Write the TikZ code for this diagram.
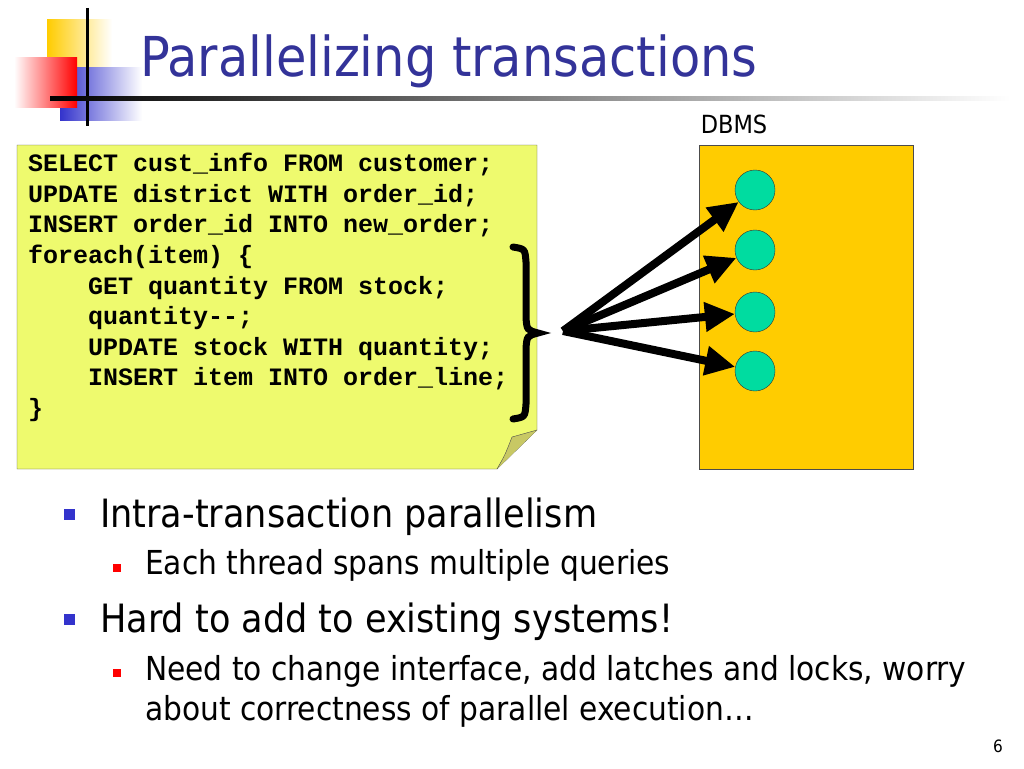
\documentclass[tikz,border=0pt]{standalone}
\usepackage{fontspec}
\setmainfont{DejaVu Sans Condensed}
\setmonofont{Liberation Mono}
\usetikzlibrary{arrows.meta,positioning}
\definecolor{titleblue}{RGB}{51,51,153}
\definecolor{bulletblue}{RGB}{51,51,204}
\definecolor{notefill}{RGB}{238,250,110}
\definecolor{notefold}{RGB}{200,200,100}
\definecolor{dbmsfill}{RGB}{255,204,0}
\definecolor{threadfill}{RGB}{0,220,160}
\definecolor{logoyellow}{RGB}{255,204,0}

\begin{document}
\begin{tikzpicture}[x=1pt, y=-1pt,
  thread/.style={circle, draw=black!80, fill=threadfill, minimum size=40pt, inner sep=0pt},
  spawn/.style={-{Triangle[length=30pt, width=28pt]}, line width=8pt},
  bul/.style={anchor=base west, inner sep=0pt},
  lvlone/.style={bul, font=\fontsize{39}{46}\selectfont},
  lvltwo/.style={bul, font=\fontsize{33}{40}\selectfont, align=left},
  sqone/.style={fill=bulletblue},
  sqtwo/.style={fill=red}
]
\useasboundingbox (0,0) rectangle (1024,768);

% Logo
\shade[left color=logoyellow, right color=white] (47,20) rectangle (112,67);
\shade[left color=bulletblue, right color=white] (60,67) rectangle (142,120);
\shade[left color=white, right color=red] (14,58) rectangle (77,107);
\draw[line width=3pt] (87,8) -- (87,126);
\shade[left color=black, right color=white] (50,96.5) rectangle (1010,100);

% Title
\node[anchor=base west, inner sep=0pt, text=titleblue, font=\fontsize{55}{66}\selectfont]
  (title) at (140,77) {Parallelizing transactions};

% Code note
\draw[fill=notefill, draw=black!70] (17,145) -- (537,145) -- (537,430) -- (497,469) -- (17,469) -- cycle;
\draw[fill=notefold, draw=black!70] (497,469) .. controls (505,455) .. (512,437)
  .. controls (525,434) .. (537,430);
\node[anchor=north west, inner sep=0pt, align=left,
  font=\ttfamily\bfseries\fontsize{25}{30.6}\selectfont] (code) at (28,153) {%
SELECT cust\_info FROM customer;\\
UPDATE district WITH order\_id;\\
INSERT order\_id INTO new\_order;\\
foreach(item) \{\\
\ \ \ \ GET quantity FROM stock;\\
\ \ \ \ quantity-{}-;\\
\ \ \ \ UPDATE stock WITH quantity;\\
\ \ \ \ INSERT item INTO order\_line;\\
\}};

% Brace
\draw[line width=7pt, line cap=round] (513,247) .. controls (525,249) .. (526,262)
  -- (526,318) .. controls (527,330) .. (538,333)
  .. controls (527,336) .. (526,348) -- (526,404)
  .. controls (525,417) .. (513,419);

% DBMS
\node[anchor=base, inner sep=0pt, font=\fontsize{25}{30}\selectfont] (dbmslabel) at (734,133) {DBMS};
\node[draw=black!70, fill=dbmsfill, minimum width=214pt, minimum height=324pt,
  inner sep=0pt, anchor=north west] (dbms) at (699,145) {};
\foreach \i/\y in {1/190, 2/250, 3/312, 4/371}
  \node[thread] (t\i) at (755,\y) {};

% Threads
\coordinate (hub) at (563,331);
\foreach \i in {1,...,4}
  \draw[spawn] (hub) -- (t\i);

% Bullets
\fill[sqone] (64,509) rectangle (75,520);
\node[lvlone] (b1) at (100,527) {Intra-transaction parallelism};
\fill[sqtwo] (113,564) rectangle (121,572);
\node[lvltwo] (b1a) at (145,574) {Each thread spans multiple queries};
\fill[sqone] (64,614) rectangle (75,625);
\node[lvlone] (b2) at (100,632) {Hard to add to existing systems!};
\fill[sqtwo] (113,669) rectangle (121,677);
\node[lvltwo] (b2a) at (145,720) {Need to change interface, add latches and locks, worry\\about correctness of parallel execution…};

% Page number
\node[anchor=base east, inner sep=0pt, font=\fontsize{17}{20}\selectfont] (page) at (1003,752) {6};
\end{tikzpicture}
\end{document}
